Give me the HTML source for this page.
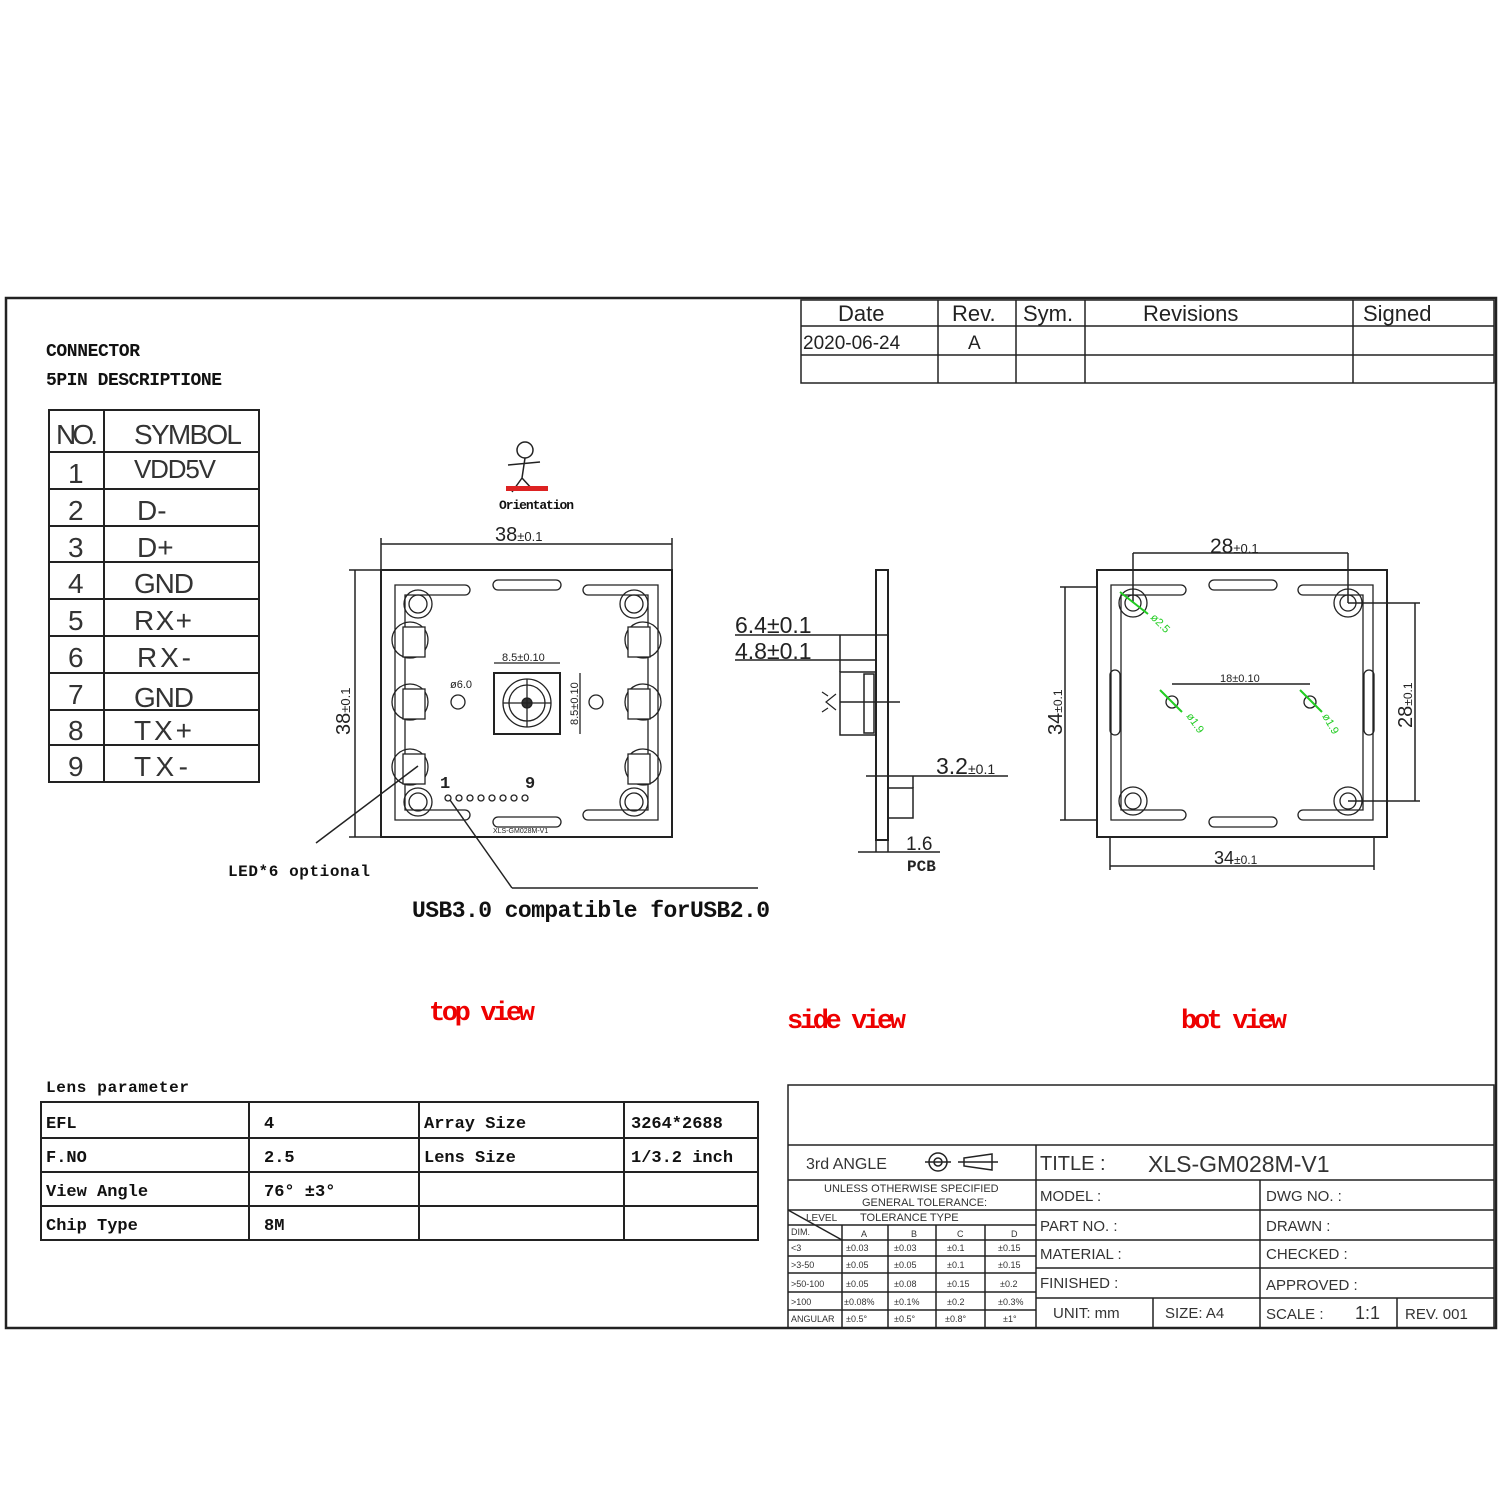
<!DOCTYPE html>
<html><head><style>
html,body{margin:0;padding:0;background:#fff}
svg text{font-family:"Liberation Sans",sans-serif}
svg .b, svg .b text{font-family:"Liberation Mono",monospace;font-weight:bold}
</style></head><body>
<svg width="1500" height="1500" viewBox="0 0 1500 1500" xmlns="http://www.w3.org/2000/svg" fill="none" stroke="#222" stroke-width="1.5">
<rect x="0" y="0" width="1500" height="1500" fill="#fff" stroke="none"/>
<rect x="6" y="298" width="1490" height="1030" stroke-width="2.5"/>
<g stroke-width="1.5">
<rect x="801" y="300" width="693" height="83"/>
<line x1="801" y1="326" x2="1494" y2="326"/><line x1="801" y1="355" x2="1494" y2="355"/>
<line x1="938" y1="300" x2="938" y2="383"/><line x1="1016" y1="300" x2="1016" y2="383"/>
<line x1="1085" y1="300" x2="1085" y2="383"/><line x1="1353" y1="300" x2="1353" y2="383"/>
</g>
<g fill="#222" stroke="none" font-size="22">
<text x="838" y="321">Date</text><text x="952" y="321">Rev.</text><text x="1023" y="321">Sym.</text>
<text x="1143" y="321">Revisions</text><text x="1363" y="321">Signed</text>
<text x="803" y="349" font-size="19">2020-06-24</text><text x="968" y="349" font-size="19">A</text>
</g>
<g fill="#111" stroke="none" class="b" font-size="18">
<text x="46" y="356" textLength="94">CONNECTOR</text>
<text x="46" y="385" textLength="176">5PIN DESCRIPTIONE</text>
</g>
<g stroke-width="2">
<rect x="49" y="410" width="210" height="372"/>
<line x1="104" y1="410" x2="104" y2="782"/>
<line x1="49" y1="452" x2="259" y2="452"/><line x1="49" y1="489" x2="259" y2="489"/>
<line x1="49" y1="526" x2="259" y2="526"/><line x1="49" y1="562" x2="259" y2="562"/>
<line x1="49" y1="599" x2="259" y2="599"/><line x1="49" y1="636" x2="259" y2="636"/>
<line x1="49" y1="673" x2="259" y2="673"/><line x1="49" y1="710" x2="259" y2="710"/>
<line x1="49" y1="745" x2="259" y2="745"/>
</g>
<g fill="#333" stroke="none" font-size="28">
<text x="56" y="444" textLength="42">NO.</text><text x="134" y="444" textLength="108">SYMBOL</text>
<text x="68" y="483">1</text><text x="134" y="478" font-size="26" textLength="82">VDD5V</text>
<text x="68" y="520">2</text><text x="137" y="520">D-</text>
<text x="68" y="557">3</text><text x="137" y="557">D+</text>
<text x="68" y="593">4</text><text x="134" y="593" textLength="60">GND</text>
<text x="68" y="630">5</text><text x="134" y="630" textLength="58">RX+</text>
<text x="68" y="667">6</text><text x="137" y="667" textLength="54">RX-</text>
<text x="68" y="704">7</text><text x="134" y="707" textLength="60">GND</text>
<text x="68" y="740">8</text><text x="134" y="740" textLength="58">TX+</text>
<text x="68" y="776">9</text><text x="134" y="776" textLength="54">TX-</text>
</g>
<circle cx="525" cy="450" r="8"/>
<path d="M525 458 L522 478 M508 465 L540 462 M522 478 L512 492 M522 478 L533 490"/>
<rect x="506" y="486" width="42" height="5" fill="#d22" stroke="none"/>
<text x="499" y="509" class="b" font-size="13" fill="#111" stroke="none" textLength="75">Orientation</text>
<line x1="381" y1="544" x2="672" y2="544"/><line x1="381" y1="538" x2="381" y2="837"/><line x1="672" y1="538" x2="672" y2="837"/>
<text x="495" y="541" font-size="20" fill="#222" stroke="none">38<tspan font-size="13">±0.1</tspan></text>
<line x1="355" y1="570" x2="355" y2="837"/><line x1="349" y1="570" x2="381" y2="570"/><line x1="349" y1="837" x2="381" y2="837"/>
<text x="350" y="735" font-size="20" fill="#222" stroke="none" transform="rotate(-90 350 735)">38<tspan font-size="13">±0.1</tspan></text>
<rect x="381" y="570" width="291" height="267" stroke-width="2"/>
<g stroke-width="1.3">
<path d="M395 585 h70 a5 5 0 0 1 0 10 h-60 v215 h60 a5 5 0 0 1 0 10 h-70 z"/>
<path d="M658 585 h-70 a5 5 0 0 0 0 10 h60 v215 h-60 a5 5 0 0 0 0 10 h70 z"/>
<rect x="493" y="580" width="68" height="10" rx="5"/><rect x="493" y="817" width="68" height="10" rx="5"/>
<circle cx="418" cy="604" r="14"/><circle cx="418" cy="604" r="9"/>
<circle cx="634" cy="604" r="14"/><circle cx="634" cy="604" r="9"/>
<circle cx="418" cy="802" r="14"/><circle cx="418" cy="802" r="9"/>
<circle cx="634" cy="802" r="14"/><circle cx="634" cy="802" r="9"/>
<circle cx="410" cy="640" r="18"/><circle cx="410" cy="702" r="18"/><circle cx="410" cy="767" r="18"/>
<circle cx="643" cy="640" r="18"/><circle cx="643" cy="702" r="18"/><circle cx="643" cy="767" r="18"/>
<rect x="403" y="627" width="22" height="30" fill="#fff"/><rect x="403" y="689" width="22" height="30" fill="#fff"/><rect x="403" y="754" width="22" height="30" fill="#fff"/>
<rect x="628" y="627" width="22" height="30" fill="#fff"/><rect x="628" y="689" width="22" height="30" fill="#fff"/><rect x="628" y="754" width="22" height="30" fill="#fff"/>
<circle cx="458" cy="702" r="7"/><circle cx="596" cy="702" r="7"/>
<rect x="494" y="673" width="66" height="61" stroke-width="2"/>
<circle cx="527" cy="703" r="24"/><circle cx="527" cy="703" r="18"/><circle cx="527" cy="703" r="5" fill="#333"/>
<line x1="503" y1="703" x2="551" y2="703"/><line x1="527" y1="679" x2="527" y2="727"/>
<line x1="494" y1="663" x2="560" y2="663"/><line x1="580" y1="673" x2="580" y2="734"/>
</g>
<g fill="#222" stroke="none" font-size="11">
<text x="502" y="661">8.5±0.10</text><text x="450" y="688">ø6.0</text>
<text x="578" y="725" transform="rotate(-90 578 725)">8.5±0.10</text>
<text x="440" y="788" font-size="17" class="b">1</text><text x="525" y="788" font-size="17" class="b">9</text>
<text x="493" y="833" font-size="7">XLS-GM028M-V1</text>
</g>
<g stroke-width="1.3"><circle cx="448" cy="798" r="3"/><circle cx="459" cy="798" r="3"/><circle cx="470" cy="798" r="3"/><circle cx="481" cy="798" r="3"/><circle cx="492" cy="798" r="3"/><circle cx="503" cy="798" r="3"/><circle cx="514" cy="798" r="3"/><circle cx="525" cy="798" r="3"/></g>
<line x1="316" y1="843" x2="418" y2="766"/>
<line x1="450" y1="800" x2="512" y2="888"/><line x1="512" y1="888" x2="758" y2="888"/>
<text x="228" y="876" class="b" font-size="16" fill="#111" stroke="none" textLength="142">LED*6 optional</text>
<text x="412" y="917" class="b" font-size="23" fill="#111" stroke="none" textLength="358">USB3.0 compatible forUSB2.0</text>
<rect x="876" y="570" width="12" height="270" stroke-width="2"/>
<rect x="840" y="672" width="36" height="63"/><rect x="864" y="674" width="10" height="59"/>
<line x1="840" y1="702" x2="900" y2="702"/>
<path d="M836 694 l-10 8 l10 8 M822 692 l6 4 M822 712 l6 -4" stroke-width="1.2"/>
<rect x="888" y="788" width="25" height="30"/>
<line x1="735" y1="635" x2="888" y2="635"/><line x1="735" y1="660" x2="876" y2="660"/><line x1="840" y1="635" x2="840" y2="672"/>
<line x1="866" y1="776" x2="1008" y2="776"/><line x1="913" y1="776" x2="913" y2="788"/>
<line x1="858" y1="852" x2="940" y2="852"/><line x1="876" y1="840" x2="876" y2="852"/><line x1="888" y1="840" x2="888" y2="852"/>
<g fill="#222" stroke="none" font-size="23">
<text x="735" y="633">6.4±0.1</text><text x="735" y="659">4.8±0.1</text>
<text x="936" y="774">3.2<tspan font-size="14">±0.1</tspan></text><text x="906" y="850" font-size="19">1.6</text>
<text x="907" y="871" class="b" font-size="16">PCB</text>
</g>
<rect x="1097" y="570" width="290" height="267" stroke-width="2"/>
<g stroke-width="1.3">
<path d="M1111 585 h70 a5 5 0 0 1 0 10 h-60 v215 h60 a5 5 0 0 1 0 10 h-70 z"/>
<path d="M1373 585 h-70 a5 5 0 0 0 0 10 h60 v215 h-60 a5 5 0 0 0 0 10 h70 z"/>
<rect x="1209" y="580" width="68" height="10" rx="5"/><rect x="1209" y="817" width="68" height="10" rx="5"/>
<rect x="1110" y="670" width="10" height="65" rx="5"/><rect x="1364" y="670" width="10" height="65" rx="5"/>
<circle cx="1133" cy="603" r="14"/><circle cx="1133" cy="603" r="8"/>
<circle cx="1348" cy="603" r="14"/><circle cx="1348" cy="603" r="8"/>
<circle cx="1133" cy="801" r="14"/><circle cx="1133" cy="801" r="8"/>
<circle cx="1348" cy="801" r="14"/><circle cx="1348" cy="801" r="8"/>
<circle cx="1172" cy="702" r="6"/><circle cx="1310" cy="702" r="6"/>
</g>
<line x1="1133" y1="553" x2="1348" y2="553"/><line x1="1133" y1="553" x2="1133" y2="603"/><line x1="1348" y1="553" x2="1348" y2="603"/>
<line x1="1065" y1="587" x2="1065" y2="820"/><line x1="1060" y1="587" x2="1097" y2="587"/><line x1="1060" y1="820" x2="1097" y2="820"/>
<line x1="1415" y1="603" x2="1415" y2="801"/><line x1="1348" y1="603" x2="1420" y2="603"/><line x1="1348" y1="801" x2="1420" y2="801"/>
<line x1="1110" y1="866" x2="1374" y2="866"/><line x1="1110" y1="837" x2="1110" y2="870"/><line x1="1374" y1="837" x2="1374" y2="870"/>
<line x1="1172" y1="684" x2="1310" y2="684"/>
<g stroke="#2c2" stroke-width="2"><line x1="1120" y1="592" x2="1148" y2="614"/><line x1="1160" y1="690" x2="1182" y2="712"/><line x1="1300" y1="690" x2="1322" y2="712"/></g>
<g fill="#2c2" stroke="none" font-size="11">
<text x="1150" y="618" transform="rotate(45 1150 618)">ø2.5</text>
<text x="1186" y="716" transform="rotate(55 1186 716)">ø1.9</text>
<text x="1322" y="716" transform="rotate(60 1322 716)">ø1.9</text>
</g>
<g fill="#222" stroke="none" font-size="21">
<text x="1210" y="553">28<tspan font-size="13">±0.1</tspan></text>
<text x="1214" y="864" font-size="18">34<tspan font-size="12">±0.1</tspan></text>
<text x="1220" y="682" font-size="11">18±0.10</text>
<text x="1062" y="735" transform="rotate(-90 1062 735)" font-size="20">34<tspan font-size="12">±0.1</tspan></text>
<text x="1412" y="728" transform="rotate(-90 1412 728)" font-size="20">28<tspan font-size="12">±0.1</tspan></text>
</g>
<g fill="#e00" stroke="none" class="b" font-size="27">
<text x="429" y="1020" textLength="106">top view</text><text x="787" y="1028" textLength="119">side view</text><text x="1181" y="1028" textLength="106">bot view</text>
</g>
<text x="46" y="1092" class="b" font-size="16" fill="#111" stroke="none" textLength="143">Lens parameter</text>
<g stroke-width="2">
<rect x="41" y="1102" width="717" height="138"/>
<line x1="41" y1="1138" x2="758" y2="1138"/><line x1="41" y1="1172" x2="758" y2="1172"/><line x1="41" y1="1206" x2="758" y2="1206"/>
<line x1="249" y1="1102" x2="249" y2="1240"/><line x1="419" y1="1102" x2="419" y2="1240"/><line x1="624" y1="1102" x2="624" y2="1240"/>
</g>
<g fill="#111" stroke="none" class="b" font-size="17">
<text x="46" y="1128">EFL</text><text x="264" y="1128">4</text><text x="424" y="1128">Array Size</text><text x="631" y="1128">3264*2688</text>
<text x="46" y="1162">F.NO</text><text x="264" y="1162">2.5</text><text x="424" y="1162">Lens Size</text><text x="631" y="1162">1/3.2 inch</text>
<text x="46" y="1196">View Angle</text><text x="264" y="1196">76° ±3°</text>
<text x="46" y="1230">Chip Type</text><text x="264" y="1230">8M</text>
</g>
<g stroke-width="1.5">
<rect x="788" y="1085" width="706" height="243"/>
<line x1="788" y1="1145" x2="1494" y2="1145"/>
<line x1="1036" y1="1145" x2="1036" y2="1328"/>
<line x1="788" y1="1180" x2="1494" y2="1180"/>
<line x1="1036" y1="1210" x2="1494" y2="1210"/><line x1="1036" y1="1240" x2="1494" y2="1240"/>
<line x1="1036" y1="1268" x2="1494" y2="1268"/><line x1="1036" y1="1298" x2="1494" y2="1298"/>
<line x1="1260" y1="1180" x2="1260" y2="1328"/><line x1="1153" y1="1298" x2="1153" y2="1328"/><line x1="1397" y1="1298" x2="1397" y2="1328"/>
<line x1="788" y1="1210" x2="1036" y2="1210"/><line x1="788" y1="1225" x2="1036" y2="1225"/>
<line x1="788" y1="1240" x2="1036" y2="1240"/><line x1="788" y1="1256" x2="1036" y2="1256"/>
<line x1="788" y1="1273" x2="1036" y2="1273"/><line x1="788" y1="1292" x2="1036" y2="1292"/><line x1="788" y1="1310" x2="1036" y2="1310"/>
<line x1="842" y1="1225" x2="842" y2="1328"/><line x1="888" y1="1225" x2="888" y2="1328"/><line x1="936" y1="1225" x2="936" y2="1328"/><line x1="985" y1="1225" x2="985" y2="1328"/>
<line x1="788" y1="1210" x2="842" y2="1240"/>
<circle cx="938" cy="1162" r="9"/><circle cx="938" cy="1162" r="4"/><line x1="925" y1="1162" x2="951" y2="1162"/>
<path d="M964 1158 L992 1154 L992 1170 L964 1166 Z M958 1162 L998 1162"/>
</g>
<g fill="#333" stroke="none" font-size="16">
<text x="806" y="1169">3rd ANGLE</text>
<text x="1040" y="1170" font-size="20">TITLE :</text><text x="1148" y="1172" font-size="23">XLS-GM028M-V1</text>
<text x="824" y="1192" font-size="11">UNLESS OTHERWISE SPECIFIED</text><text x="862" y="1206" font-size="11">GENERAL TOLERANCE:</text>
<text x="806" y="1221" font-size="10">LEVEL</text><text x="860" y="1221" font-size="11">TOLERANCE TYPE</text>
<g font-size="9"><text x="791" y="1235">DIM.</text><text x="861" y="1237">A</text><text x="911" y="1237">B</text><text x="957" y="1237">C</text><text x="1011" y="1237">D</text>
<text x="791" y="1251">&lt;3</text><text x="846" y="1251">±0.03</text><text x="894" y="1251">±0.03</text><text x="947" y="1251">±0.1</text><text x="998" y="1251">±0.15</text>
<text x="791" y="1268">&gt;3-50</text><text x="846" y="1268">±0.05</text><text x="894" y="1268">±0.05</text><text x="947" y="1268">±0.1</text><text x="998" y="1268">±0.15</text>
<text x="791" y="1287">&gt;50-100</text><text x="846" y="1287">±0.05</text><text x="894" y="1287">±0.08</text><text x="947" y="1287">±0.15</text><text x="1000" y="1287">±0.2</text>
<text x="791" y="1305">&gt;100</text><text x="844" y="1305">±0.08%</text><text x="894" y="1305">±0.1%</text><text x="947" y="1305">±0.2</text><text x="998" y="1305">±0.3%</text>
<text x="791" y="1322">ANGULAR</text><text x="846" y="1322">±0.5°</text><text x="894" y="1322">±0.5°</text><text x="945" y="1322">±0.8°</text><text x="1003" y="1322">±1°</text></g>
<g font-size="15"><text x="1040" y="1201">MODEL :</text><text x="1266" y="1201">DWG NO. :</text>
<text x="1040" y="1231">PART NO. :</text><text x="1266" y="1231">DRAWN :</text>
<text x="1040" y="1259">MATERIAL :</text><text x="1266" y="1259">CHECKED :</text>
<text x="1040" y="1288">FINISHED :</text><text x="1266" y="1290">APPROVED :</text>
<text x="1053" y="1318">UNIT: mm</text><text x="1165" y="1318">SIZE: A4</text><text x="1266" y="1319">SCALE :</text><text x="1355" y="1319" font-size="18">1:1</text><text x="1405" y="1319">REV. 001</text></g>
</g>
</svg>
</body></html>
